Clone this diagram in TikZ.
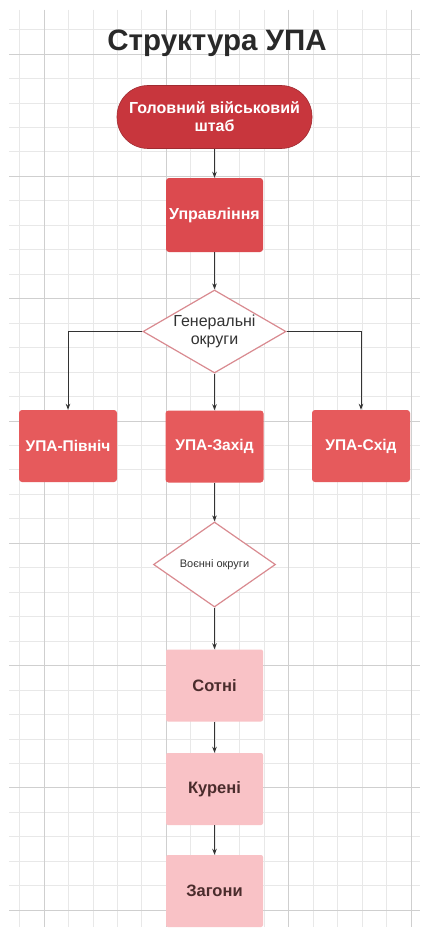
\documentclass[tikz,border=0pt]{standalone}
\usepackage{fontspec}
\setmainfont{Liberation Sans}
\usetikzlibrary{shapes.geometric,arrows.meta}
\definecolor{hqred}{HTML}{C8363D}
\definecolor{mgred}{HTML}{DC4A4F}
\definecolor{upared}{HTML}{E65A5C}
\definecolor{lpink}{HTML}{F9C2C6}
\definecolor{dborder}{HTML}{D98A90}
\definecolor{gridminor}{HTML}{E8E8E8}
\definecolor{gridmajor}{HTML}{CFCFCF}
\definecolor{txtdark}{HTML}{333333}
\definecolor{txtmaroon}{HTML}{4A2C2C}
\tikzset{
  every node/.style={align=center, inner sep=0pt},
  hqbox/.style={rectangle, rounded corners=31pt, fill=hqred, draw=hqred!80!black, line width=0.6pt,
    minimum width=195pt, minimum height=63pt, text=white, font=\fontsize{16}{18}\selectfont\bfseries},
  mgbox/.style={rectangle, rounded corners=3pt, fill=mgred, minimum width=97pt, minimum height=74pt,
    text=white, font=\fontsize{16}{18}\selectfont\bfseries},
  upabox/.style={rectangle, rounded corners=3pt, fill=upared, minimum width=98pt, minimum height=72pt,
    text=white, font=\fontsize{15.5}{18}\selectfont\bfseries},
  pinkbox/.style={rectangle, rounded corners=2pt, fill=lpink, minimum width=97pt, minimum height=72pt,
    text=txtmaroon, font=\fontsize{16.5}{18}\selectfont\bfseries},
  decision/.style={diamond, draw=dborder, line width=1.2pt, fill=white, text=txtdark},
  conn/.style={draw=txtdark, line width=0.9pt, -{Stealth[length=6pt,width=4.5pt]}},
}
\begin{document}
\begin{tikzpicture}[x=1pt,y=-1pt]
\useasboundingbox (0,0) rectangle (422,931);
\fill[white] (0,0) rectangle (422,931);
% grid
\foreach \i in {-1,...,15} {
  \pgfmathsetmacro{\xx}{44+\i*24.46}
  \ifdim\xx pt>8pt \ifdim\xx pt<421pt
    \draw[gridminor, line width=0.7pt] (\xx,10) -- (\xx,927);
  \fi\fi
}
\foreach \j in {-1,...,36} {
  \pgfmathsetmacro{\yy}{54+\j*24.46}
  \ifdim\yy pt>9pt \ifdim\yy pt<928pt
    \draw[gridminor, line width=0.7pt] (9,\yy) -- (420,\yy);
  \fi\fi
}
\foreach \i in {0,...,3} {
  \draw[gridmajor, line width=0.8pt] ({44+\i*122.3},10) -- ({44+\i*122.3},927);
}
\foreach \j in {0,...,7} {
  \draw[gridmajor, line width=0.8pt] (9,{54+\j*122.3}) -- (420,{54+\j*122.3});
}
% title
\node (title) at (217,43) {\fontsize{29.5}{32}\selectfont\bfseries\color{txtdark!80!black}Структура УПА};
% nodes
\node[hqbox] (hq) at (214.5,117) {Головний військовий\\штаб};
\node[mgbox] (mg) at (214.5,215) {Управління};
\node[decision, minimum width=143pt, minimum height=83pt, aspect=1.72,
      font=\fontsize{16}{18}\selectfont] (gen) at (214.5,331.5) {Генеральні\\округи};
\node[upabox] (north) at (68,446) {УПА-Північ};
\node[upabox] (west) at (214.5,446.5) {УПА-Захід};
\node[upabox] (east) at (361,446) {УПА-Схід};
\node[decision, minimum width=122pt, minimum height=85pt, aspect=1.44,
      font=\fontsize{11}{13}\selectfont] (mil) at (214.5,564.5) {Воєнні округи};
\node[pinkbox] (sot) at (214.5,685.5) {Сотні};
\node[pinkbox] (kur) at (214.5,789) {Курені};
\node[pinkbox] (zag) at (214.5,891) {Загони};
% connectors
\draw[conn] (hq) -- (mg);
\draw[conn] (mg) -- (gen);
\draw[conn] (gen.west) -| (north.north);
\draw[conn] (gen) -- (west);
\draw[conn] (gen.east) -| (east.north);
\draw[conn] (west) -- (mil);
\draw[conn] (mil) -- (sot);
\draw[conn] (sot) -- (kur);
\draw[conn] (kur) -- (zag);
\end{tikzpicture}
\end{document}
